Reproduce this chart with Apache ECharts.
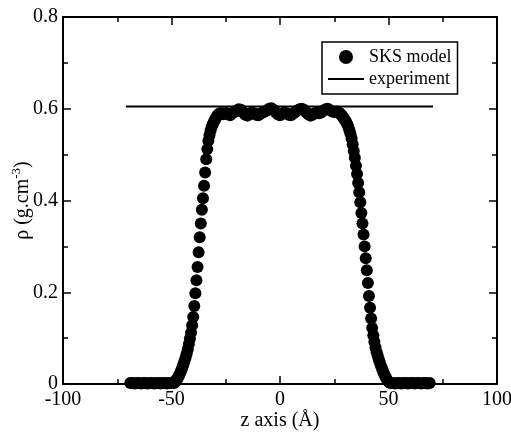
<!DOCTYPE html>
<html>
<head>
<meta charset="utf-8">
<script src="https://cdn.jsdelivr.net/npm/echarts@6/dist/echarts.min.js"></script>
<style>
  html, body { margin: 0; padding: 0; background: #fff; }
  #chart { width: 511px; height: 436px; }
</style>
</head>
<body>
<div id="chart"></div>
<script>
// density profile, split by region
const floorLeftZ = [-69, -68, -67, -66, -65, -64, -63, -62, -61, -60, -59, -58, -57, -56, -55, -54, -53, -52, -51, -50, -49]
const floorLeftRho = [0.002, 0.002, 0.001, 0.002, 0.002, 0.001, 0.002, 0.002, 0.001, 0.002, 0.002, 0.001, 0.002, 0.002, 0.001, 0.002, 0.002, 0.001, 0.002, 0.002, 0.002]

const riseZ = [-48.5, -48, -47.5, -47, -46.5, -46, -45.5, -45, -44.5, -44, -43.5, -43, -42.5, -42, -41.5, -41, -40.5, -40, -39.5, -39, -38.5,
  -38, -37.5, -37, -36.5, -36, -35.5, -35, -34.5, -34, -33.5, -33, -32.5, -32, -31.5, -31, -30.5, -30, -29.5, -29, -28.5, -28, -27.5]
const riseRho = [0.003, 0.006, 0.010, 0.014, 0.019, 0.024, 0.030, 0.036, 0.043, 0.050, 0.058, 0.066, 0.076, 0.087, 0.099, 0.112, 0.128, 0.146, 0.170, 0.198, 0.226,
  0.255, 0.287, 0.320, 0.350, 0.380, 0.405, 0.432, 0.461, 0.490, 0.512, 0.530, 0.542, 0.552, 0.560, 0.566, 0.571, 0.576, 0.580, 0.584, 0.587, 0.589, 0.590]

const plateauZ = [-27, -26, -25, -24, -23, -22, -21, -20, -19, -18, -17, -16, -15, -14, -13, -12, -11, -10, -9, -8, -7, -6, -5, -4, -3, -2, -1,
  0, 1, 2, 3, 4, 5, 6, 7, 8, 9, 10, 11, 12, 13, 14, 15, 16, 17, 18, 19, 20, 21, 22, 23, 24, 25, 26]
const plateauRho = [0.590, 0.588, 0.591, 0.589, 0.586, 0.590, 0.593, 0.596, 0.599, 0.598, 0.592, 0.587, 0.585, 0.588, 0.592, 0.590, 0.587, 0.586, 0.589, 0.592, 0.594, 0.596, 0.600, 0.601, 0.598, 0.593, 0.588,
  0.586, 0.589, 0.592, 0.590, 0.587, 0.586, 0.589, 0.593, 0.596, 0.599, 0.600, 0.598, 0.593, 0.588, 0.585, 0.587, 0.590, 0.592, 0.590, 0.592, 0.596, 0.599, 0.600, 0.597, 0.594, 0.593, 0.594]

const fallZ = [27, 27.5, 28, 28.5, 29, 29.5, 30, 30.5, 31, 31.5, 32, 32.5, 33, 33.5, 34, 34.5, 35, 35.5, 36, 36.5, 37, 37.5, 38, 38.5,
  39, 39.5, 40, 40.5, 41, 41.5, 42, 42.5, 43, 43.5, 44, 44.5, 45, 45.5, 46, 46.5, 47, 47.5, 48, 48.5, 49, 49.5, 50, 50.5]
const fallRho = [0.592, 0.590, 0.588, 0.585, 0.582, 0.579, 0.575, 0.571, 0.566, 0.560, 0.553, 0.545, 0.535, 0.522, 0.508, 0.493, 0.476, 0.458, 0.438, 0.418, 0.396, 0.373, 0.350, 0.326,
  0.300, 0.274, 0.248, 0.220, 0.192, 0.166, 0.143, 0.122, 0.106, 0.092, 0.080, 0.070, 0.062, 0.054, 0.047, 0.040, 0.034, 0.028, 0.022, 0.017, 0.012, 0.008, 0.005, 0.003]

const floorRightZ = [51, 52, 53, 54, 55, 56, 57, 58, 59, 60, 61, 62, 63, 64, 65, 66, 67, 68, 69]
const floorRightRho = [0.002, 0.002, 0.001, 0.002, 0.002, 0.001, 0.002, 0.002, 0.001, 0.002, 0.002, 0.001, 0.002, 0.002, 0.001, 0.002, 0.002, 0.001, 0.002]

// experiment: flat reference density
const expZ = [-71, 70.5]
const expRho = [0.605, 0.605]

const xTicks = { min: -100, max: 100, step: 50 }
const yTicks = { min: 0, max: 0.8, step: 0.2 }

const FONT = 'Liberation Serif'

function zip(xs, ys) {
  return xs.map((x, i) => [x, ys[i]])
}

const modelData = [].concat(
  zip(floorLeftZ, floorLeftRho),
  zip(riseZ, riseRho),
  zip(plateauZ, plateauRho),
  zip(fallZ, fallRho),
  zip(floorRightZ, floorRightRho)
)

const chart = echarts.init(document.getElementById('chart'), null, { renderer: 'canvas' })

const tickStyle = { show: true, inside: true, length: 8, lineStyle: { color: '#000', width: 1.5 } }
const minorStyle = { show: true, splitNumber: 2, length: 5, lineStyle: { color: '#000', width: 1.5 } }
const lineStyle = { show: true, onZero: false, lineStyle: { color: '#000', width: 2 } }

chart.setOption({
  backgroundColor: '#fff',
  animation: false,
  grid: { left: 63, right: 14, top: 17, bottom: 52, outerBoundsMode: 'none', containLabel: false },
  legend: {
    left: 322,
    top: 42,
    orient: 'vertical',
    borderColor: '#000',
    borderWidth: 1.5,
    padding: [6, 6, 6, 5],
    itemGap: 4,
    itemWidth: 36,
    itemHeight: 14,
    textStyle: { fontFamily: FONT, fontSize: 18, color: '#000' },
    data: [
      { name: 'SKS model', icon: 'circle', itemStyle: { opacity: 1 } },
      { name: 'experiment', itemStyle: { opacity: 0 }, lineStyle: { color: '#000', width: 2, opacity: 1 } }
    ]
  },
  xAxis: [{
    type: 'value',
    min: xTicks.min,
    max: xTicks.max,
    interval: xTicks.step,
    position: 'bottom',
    axisLine: lineStyle,
    axisTick: tickStyle,
    minorTick: minorStyle,
    splitLine: { show: false },
    axisLabel: { fontFamily: FONT, fontSize: 20, color: '#000', margin: 6 },
    name: 'z axis (Å)',
    nameLocation: 'middle',
    nameGap: 27,
    nameMoveOverlap: false,
    nameTextStyle: { fontFamily: FONT, fontSize: 20, color: '#000' }
  }, {
    type: 'value',
    min: xTicks.min,
    max: xTicks.max,
    interval: xTicks.step,
    position: 'top',
    axisLine: lineStyle,
    axisTick: tickStyle,
    minorTick: minorStyle,
    splitLine: { show: false },
    axisLabel: { show: false }
  }],
  yAxis: [{
    type: 'value',
    min: yTicks.min,
    max: yTicks.max,
    interval: yTicks.step,
    position: 'left',
    axisLine: lineStyle,
    axisTick: tickStyle,
    minorTick: minorStyle,
    splitLine: { show: false },
    axisLabel: {
      fontFamily: FONT, fontSize: 20, color: '#000', margin: 5,
      formatter: v => (v === 0 ? '0' : v.toFixed(1))
    },
    name: 'ρ (g.cm{sup|-3})',
    nameLocation: 'middle',
    nameRotate: 90,
    nameGap: 28,
    nameMoveOverlap: false,
    nameTextStyle: {
      fontFamily: FONT, fontSize: 20, color: '#000',
      rich: { sup: { fontFamily: FONT, fontSize: 13, color: '#000', verticalAlign: 'top', padding: [0, 0, 12, 0] } }
    }
  }, {
    type: 'value',
    min: yTicks.min,
    max: yTicks.max,
    interval: yTicks.step,
    position: 'right',
    axisLine: lineStyle,
    axisTick: tickStyle,
    minorTick: minorStyle,
    splitLine: { show: false },
    axisLabel: { show: false }
  }],
  series: [{
    name: 'SKS model',
    type: 'scatter',
    symbol: 'circle',
    symbolSize: 12,
    itemStyle: { color: '#000', opacity: 1 },
    data: modelData
  }, {
    name: 'experiment',
    type: 'line',
    symbol: 'none',
    lineStyle: { color: '#000', width: 2 },
    itemStyle: { color: '#000' },
    data: zip(expZ, expRho)
  }]
})
</script>
</body>
</html>
